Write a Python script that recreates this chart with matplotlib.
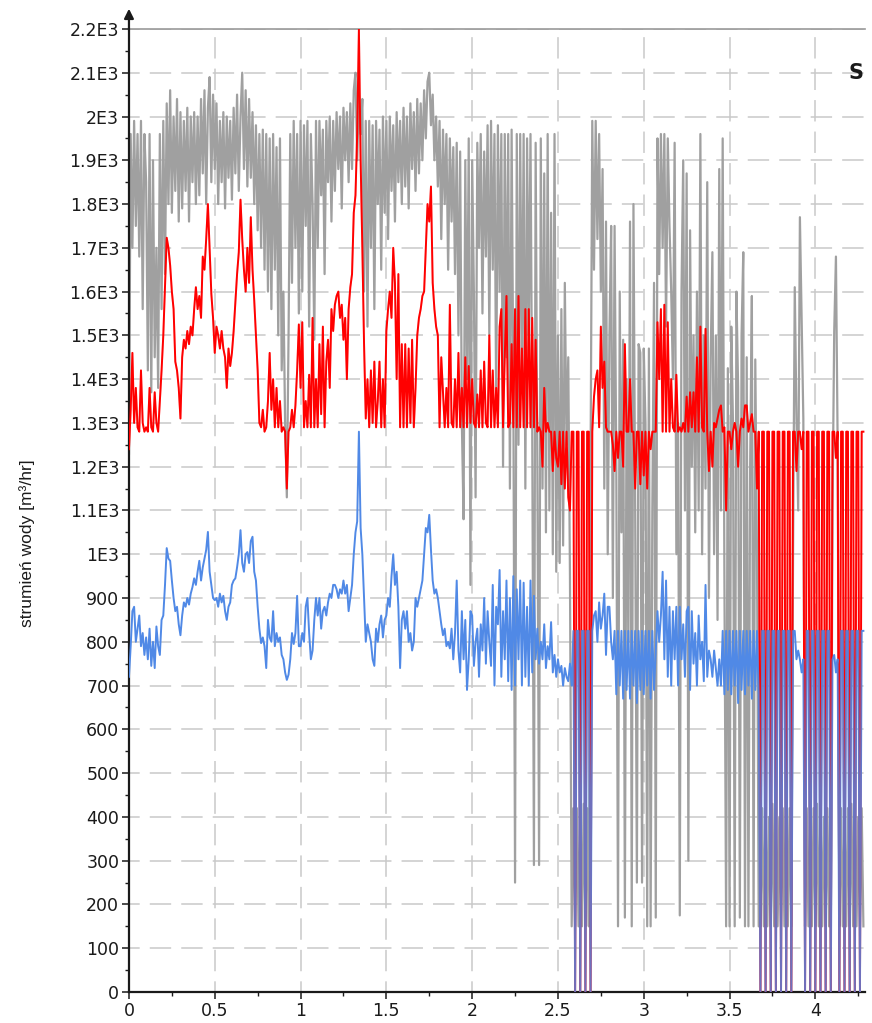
"""
Water flow time series: total flow and two pump lines, with pump on/off cycling.
"""

from __future__ import annotations

import matplotlib

matplotlib.use("Agg")

import matplotlib.pyplot as plt
import numpy as np
from matplotlib.ticker import FuncFormatter, MultipleLocator

SAMPLE_STEP = 0.01  # one reading every 0.01 on the time axis

# Total flow [m3/hr], one row per 0.1 of time.
total_flow = [
    1230, 1960, 1700, 1990, 1750, 1960, 1680, 1990, 1560, 1960,
    1850, 1420, 1960, 1370, 1900, 1450, 1700, 1380, 1960, 1560,
    1990, 1640, 2030, 1800, 2060, 1780, 2000, 1830, 2040, 1760,
    2010, 1790, 1990, 1830, 2020, 1760, 2000, 1850, 2010, 1800,
    2000, 1820, 2040, 1870, 2060, 1800, 2020, 2090, 1850, 2050,
    1880, 2030, 1800, 1990, 1850, 2010, 1790, 2000, 1860, 1990,
    1810, 2020, 1870, 2050, 1830, 2000, 2100, 1880, 2060, 1840,
    2040, 1860, 2010, 1800, 1980, 1740, 1960, 1700, 1970, 1650,
    1960, 1600, 1950, 1560, 1960, 1650, 1930, 1500, 1950, 1420,
    1600, 1300, 1130, 1500, 1960, 1620, 1990, 1700, 1960, 1550,
    1990, 1600, 1980, 1750, 1990, 1520, 1960, 1800, 1490, 1990,
    1700, 1990, 1820, 1970, 1640, 1990, 1850, 2000, 1760, 1990,
    1830, 2010, 1880, 2000, 1790, 2020, 1900, 2010, 1850, 2030,
    1880, 2060, 2100, 1900, 2050, 1960, 2040, 1600, 1990, 1520,
    1990, 1700, 1980, 1560, 1990, 1800, 1970, 1650, 2000, 1780,
    1990, 1720, 2000, 1830, 1980, 1760, 2010, 1850, 1990, 1800,
    2020, 1840, 2000, 1790, 2030, 1880, 2010, 1830, 2040, 1870,
    2030, 1900, 2060, 1950, 2080, 2100, 1980, 2050, 1900, 2000,
    1840, 1990, 1720, 1970, 1800, 1960, 1650, 1950, 1760, 1930,
    1640, 1940, 1500, 1920, 1300, 1080, 1900, 1400, 1950, 930,
    1900, 1600, 1130, 1940, 1700, 1960, 1550, 1920, 1680, 1980,
    1500, 1990, 1650, 1960, 1350, 1980, 1600, 1960, 1200, 1960,
    1450, 1960, 1150, 1970, 1380, 250, 1960, 1250, 1960, 1400,
    1960, 1150, 1950, 1500, 1960, 1300, 290, 1940, 1200, 290,
    1950, 1150, 1870, 1050, 1960, 1100, 1780, 1000, 1960, 960,
    1500, 980, 1560, 1020, 1620, 1250, 1450, 950, 150, 420,
    150, 420, 150, 400, 150, 430, 150, 420, 150, 1200,
    1990, 1650, 1990, 1720, 1960, 1600, 1880, 1150, 1760, 1000,
    1500, 1750, 900, 1750, 1200, 150, 1600, 1050, 1490, 170,
    1400, 800, 1760, 150, 1800, 1100, 250, 1480, 1460, 250,
    1470, 1300, 150, 1470, 150, 1100, 1620, 170, 1950, 1640,
    1960, 1700, 1960, 1520, 1950, 1750, 1600, 1400, 1940, 1000,
    1300, 175, 1600, 1900, 1100, 1870, 300, 1740, 1200, 1500,
    1050, 1600, 1100, 1960, 1000, 1500, 1150, 1850, 900, 1450,
    1690, 1000, 1500, 850, 1880, 1100, 1950, 950, 150, 1425,
    150, 1520, 1300, 150, 1600, 1380, 170, 1500, 1690, 150,
    1450, 150, 1200, 1590, 150, 1445, 1000, 150, 150, 420,
    150, 420, 150, 400, 150, 430, 150, 420, 150, 400,
    150, 420, 150, 430, 150, 420, 150, 1000, 1610, 1310,
    1100, 1770, 1540, 1310, 150, 420, 150, 400, 150, 420,
    150, 430, 150, 420, 150, 400, 150, 420, 150, 150,
    1100, 1510, 1680, 1250, 150, 420, 150, 400, 150, 420,
    150, 430, 150, 420, 150, 400, 150, 420, 150,
]

# Pump line A [m3/hr]; drops to 0 while the pump cycles off.
line_a_flow = [
    1240, 1330, 1460, 1300, 1380, 1290, 1280, 1420, 1300, 1280,
    1290, 1280, 1380, 1290, 1280, 1370, 1300, 1280, 1350, 1420,
    1500, 1610, 1723, 1700, 1660, 1600, 1560, 1440, 1420, 1380,
    1310, 1450, 1490, 1470, 1510, 1480, 1520, 1500, 1560, 1610,
    1560, 1590, 1540, 1680, 1650, 1720, 1800, 1700, 1595, 1540,
    1460, 1520, 1500, 1470, 1510, 1470, 1450, 1380, 1470, 1430,
    1460, 1510, 1575, 1640, 1690, 1810, 1720, 1650, 1600, 1700,
    1620, 1770, 1650, 1580, 1500, 1420, 1300, 1290, 1330, 1280,
    1290, 1350, 1460, 1330, 1400, 1290, 1380, 1290, 1350, 1280,
    1290, 1280, 1150, 1280, 1290, 1330, 1290, 1340, 1420, 1525,
    1380, 1530, 1290, 1350, 1290, 1410, 1290, 1540, 1290, 1400,
    1290, 1480, 1320, 1520, 1290, 1440, 1490, 1380, 1560, 1510,
    1570, 1590, 1600, 1540, 1570, 1490, 1540, 1400, 1560, 1610,
    1640, 1780, 1820, 1960, 2200, 1900, 1700, 1480, 1310, 1400,
    1290, 1420, 1300, 1440, 1290, 1350, 1440, 1290, 1400, 1290,
    1510, 1560, 1600, 1540, 1700, 1620, 1400, 1640, 1290, 1480,
    1290, 1480, 1290, 1470, 1300, 1490, 1290, 1380, 1500, 1540,
    1560, 1590, 1600, 1700, 1800, 1760, 1840, 1620, 1560, 1520,
    1500, 1290, 1450, 1370, 1290, 1380, 1290, 1570, 1300, 1290,
    1400, 1290, 1460, 1290, 1380, 1290, 1450, 1290, 1430, 1300,
    1400, 1300, 1290, 1365, 1290, 1420, 1290, 1440, 1300, 1290,
    1500, 1290, 1420, 1290, 1380, 1290, 1520, 1560, 1290, 1450,
    1590, 1290, 1300, 1480, 1290, 1560, 1290, 1590, 1290, 1470,
    1290, 1560, 1290, 1560, 1290, 1540, 1290, 1490, 1280, 1290,
    1280, 1200, 1380, 1280, 1300, 1280, 1280, 1190, 1280, 1220,
    1200, 1280, 1160, 1280, 1150, 1280, 1130, 1100, 1280, 1280,
    0, 1280, 1280, 0, 1280, 1280, 0, 1280, 1280, 0,
    1280, 1360, 1400, 1420, 1290, 1520, 1380, 1440, 1290, 1280,
    1280, 1280, 1250, 1190, 1280, 1220, 1280, 1280, 1200, 1480,
    1280, 1280, 1400, 1280, 1280, 1150, 1280, 1280, 1160, 1280,
    1180, 1280, 1150, 1280, 1240, 1280, 1280, 1280, 1530, 1400,
    1560, 1280, 1570, 1280, 1530, 1280, 1400, 1290, 1280, 1410,
    1280, 1290, 1280, 1300, 1280, 1360, 1280, 1370, 1290, 1370,
    1280, 1450, 1280, 1520, 1290, 1280, 1515, 1280, 1190, 1280,
    1200, 1300, 1290, 1310, 1330, 1340, 1280, 1290, 1100, 1280,
    1280, 1240, 1280, 1300, 1280, 1200, 1280, 1310, 1290, 1340,
    1340, 1280, 1300, 1320, 1280, 1280, 1150, 1280, 0, 1280,
    1280, 0, 1280, 1280, 0, 1280, 1280, 0, 1280, 1280,
    0, 1280, 1280, 0, 1280, 1280, 0, 1280, 1280, 1190,
    1280, 1280, 1240, 1280, 0, 1280, 1280, 0, 1280, 1280,
    0, 1280, 1280, 0, 1280, 1280, 0, 1280, 1280, 0,
    1280, 1280, 1220, 1280, 0, 1280, 1280, 0, 1280, 1280,
    0, 1280, 1280, 0, 1280, 1280, 0, 1280, 1280,
]

# Pump line B [m3/hr]; capped at 825 and dropping to 0 while cycling off.
line_b_flow = [
    720, 790, 870, 880, 800, 830, 860, 790, 820, 770,
    810, 760, 830, 745, 800, 740, 835, 790, 770, 850,
    860, 930, 1014, 990, 985, 940, 900, 870, 880, 840,
    815, 860, 890, 880, 900, 885, 910, 925, 945, 930,
    960, 985, 940, 970, 990, 1010, 1051, 960, 930, 900,
    895, 900, 880, 910, 890, 905, 870, 850, 880, 890,
    930, 940, 945, 970, 1000, 1055, 980, 960, 1000, 1005,
    980, 1030, 1040, 960, 940, 880, 830, 797, 810, 790,
    740, 850, 810, 800, 870, 790, 820, 800, 810, 770,
    760, 730, 713, 725, 760, 820, 795, 820, 905, 790,
    790, 820, 800, 880, 900, 820, 760, 780, 850, 900,
    860, 900, 830, 870, 880, 860, 890, 910, 900, 930,
    930, 920, 900, 920, 910, 940, 910, 930, 870, 900,
    930, 1000, 1050, 1075, 1280, 1060, 1000, 900, 800, 840,
    820, 800, 760, 745, 830, 800, 840, 860, 810, 850,
    860, 900, 880, 950, 1000, 930, 960, 880, 740, 850,
    870, 830, 870, 800, 820, 780, 800, 900, 880, 900,
    920, 940, 1000, 1060, 1050, 1090, 1010, 940, 910, 920,
    900, 870, 840, 815, 830, 790, 800, 785, 830, 760,
    820, 940, 780, 730, 870, 760, 850, 690, 760, 870,
    860, 745, 800, 830, 720, 840, 780, 900, 750, 870,
    800, 745, 930, 700, 880, 840, 964, 720, 870, 760,
    940, 710, 900, 690, 950, 700, 920, 760, 940, 700,
    935, 720, 880, 700, 940, 730, 905, 760, 830, 750,
    800, 760, 840, 740, 790, 760, 845, 730, 770, 720,
    760, 730, 745, 700, 740, 720, 710, 750, 700, 825,
    0, 825, 825, 0, 825, 825, 0, 825, 825, 0,
    825, 860, 870, 800, 890, 830, 860, 910, 770, 880,
    880, 800, 760, 825, 680, 825, 700, 825, 670, 825,
    690, 825, 670, 825, 700, 825, 660, 825, 690, 825,
    680, 825, 700, 825, 670, 825, 690, 780, 870, 800,
    860, 960, 760, 940, 720, 880, 700, 870, 760, 880,
    700, 880, 760, 840, 720, 870, 880, 690, 870, 750,
    820, 700, 860, 760, 800, 710, 930, 720, 780, 760,
    720, 780, 740, 700, 760, 700, 825, 680, 825, 690,
    825, 680, 825, 700, 825, 660, 825, 690, 825, 680,
    825, 700, 825, 670, 825, 690, 825, 680, 0, 825,
    825, 0, 825, 825, 0, 825, 825, 0, 825, 825,
    0, 825, 825, 0, 825, 825, 0, 825, 825, 760,
    780, 760, 730, 760, 0, 825, 825, 0, 825, 825,
    0, 825, 825, 0, 825, 825, 0, 825, 825, 0,
    760, 770, 730, 760, 0, 825, 825, 0, 825, 825,
    0, 825, 825, 0, 825, 825, 0, 825, 825,
]

x_ticks = [0, 0.5, 1, 1.5, 2, 2.5, 3, 3.5, 4]
x_tick_labels = ["0", "0.5", "1", "1.5", "2", "2.5", "3", "3.5", "4"]
y_label = "strumień wody [m³/hr]"
corner_label = "S"

GRAY = "#a0a0a0"
RED = "#ff0000"
BLUE = "#5089e6"
GRID = "#c9c9c9"
INK = "#1a1a1a"


def _flow_label(value: float, _pos) -> str:
    # 1000 and above are written as "1.1E3", below as plain integers.
    if value >= 1000:
        return f"{value / 1000:g}E3"
    return f"{value:g}"


def main() -> int:
    plt.rcParams["font.family"] = ["DejaVu Sans"]

    t = np.arange(len(total_flow)) * SAMPLE_STEP

    fig = plt.figure(figsize=(8.72, 10.23), dpi=100)
    ax = fig.add_axes([0.1479, 0.0303, 0.8440, 0.9414])

    ax.plot(t, total_flow, color=GRAY, linewidth=1.6, zorder=2)
    ax.plot(t, line_a_flow, color=RED, linewidth=1.4, zorder=3)
    ax.plot(t, line_b_flow, color=BLUE, linewidth=1.4, zorder=4)
    # light red pass on top tints line B where both lines drop to zero
    ax.plot(t, line_a_flow, color=RED, linewidth=1.4, alpha=0.18, zorder=5)

    ax.set_xlim(0, 4.289)
    ax.set_ylim(0, 2200)

    ax.set_xticks(x_ticks)
    ax.set_xticklabels(x_tick_labels)
    ax.xaxis.set_minor_locator(MultipleLocator(0.25))
    ax.yaxis.set_major_locator(MultipleLocator(100))
    ax.yaxis.set_minor_locator(MultipleLocator(50))
    ax.yaxis.set_major_formatter(FuncFormatter(_flow_label))

    ax.tick_params(which="major", direction="out", length=5, width=1.1,
                   labelsize=12.5, colors=INK, pad=2)
    ax.tick_params(which="minor", direction="out", length=3, width=1.0,
                   colors=INK)

    ax.xaxis.grid(True, which="major", color=GRID, linewidth=1.1,
                  linestyle=(7, (14, 6.6)))
    ax.yaxis.grid(True, which="major", color=GRID, linewidth=1.1,
                  linestyle=(7, (14, 6.6)))
    ax.set_axisbelow(True)

    for side in ("left", "bottom"):
        ax.spines[side].set_color(INK)
        ax.spines[side].set_linewidth(1.6)
    ax.spines["top"].set_color("#9a9a9a")
    ax.spines["top"].set_linewidth(1.2)
    ax.spines["right"].set_visible(False)

    # arrow head on top of the value axis
    ax.annotate("", xy=(0, 1.021), xytext=(0, 0.999), xycoords="axes fraction",
                arrowprops=dict(arrowstyle="-|>", color=INK, lw=1.6,
                                mutation_scale=14, shrinkA=0, shrinkB=0))

    ax.set_ylabel(y_label, fontsize=12.5, color=INK,
                  family=["Liberation Sans", "DejaVu Sans"])
    ax.yaxis.set_label_coords(-0.128, 0.466)

    ax.text(4.278, 2100, corner_label, ha="right", va="center",
            fontsize=15, fontweight="bold", color=INK, zorder=6)

    fig.savefig("out.png", dpi=100)
    plt.close(fig)
    return 0


if __name__ == "__main__":
    raise SystemExit(main())
